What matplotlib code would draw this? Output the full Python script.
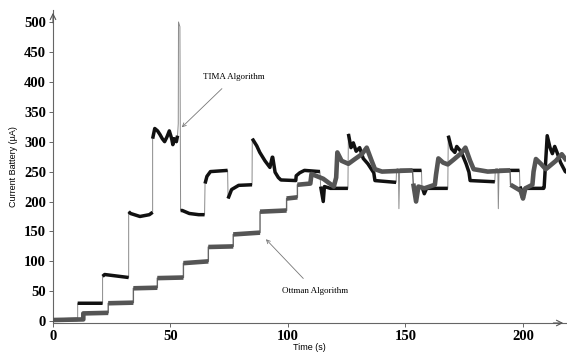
import matplotlib
matplotlib.use("Agg")
import matplotlib.pyplot as plt
import numpy as np

# TIMA algorithm trace (black), breakpoints
tima_t = [0, 10.5, 10.5, 21.1, 21.1, 22.0, 32.2, 32.2, 33.0, 37.0, 41.0, 42.4,
          42.4, 43.3, 44.5, 45.5, 46.5, 47.5, 48.5, 49.5, 50.5, 51.0, 51.5, 52.5, 53.0,
          53.3, 53.4, 54.0, 54.3, 55.0, 58.0, 62.0, 64.5,
          64.7, 65.5, 67.0, 74.0, 74.3, 74.5, 76.0, 79.0, 84.7,
          84.8, 86.7, 88.0, 90.2, 92.3, 93.3, 93.5, 94.5, 95.9, 97.0, 103.3,
          103.5, 105.0, 107.0, 113.6, 113.9, 115.0, 115.5, 118.0, 125.5,
          125.7, 126.8, 127.8, 129.0, 130.5, 132.0, 134.0, 136.5,
          137.0, 146.0, 146.2, 147.0, 147.2, 147.5, 156.8, 157.0, 158.0, 159.0, 168.0,
          168.2, 169.6, 171.0, 171.8, 173.7, 175.8, 177.0,
          177.5, 188.0, 188.2, 189.3, 189.5, 189.8, 198.5, 198.7, 200.0, 201.0, 208.8,
          209.0, 210.3, 211.5, 212.5, 213.5, 214.5, 216.0, 218.0, 219.0]
tima_v = [2, 3, 30, 30, 75, 78, 73, 183, 180, 175, 178, 182,
          305, 322, 318, 312, 305, 300, 308, 318, 305, 295, 305, 300, 310,
          330, 500, 492, 185, 185, 180, 178, 178,
          230, 242, 250, 252, 252, 205, 220, 227, 228,
          305, 293, 282, 268, 257, 274, 274, 249, 240, 236, 235,
          243, 248, 252, 250, 225, 200, 225, 222, 222,
          313, 290, 298, 284, 290, 272, 263, 248,
          235, 232, 252, 252, 188, 252, 252, 225, 213, 222, 222,
          310, 288, 282, 292, 283, 263, 249,
          235, 233, 252, 252, 188, 252, 252, 225, 213, 222, 222,
          224, 310, 290, 280, 292, 282, 265, 250, 248]

# Ottman algorithm trace (dark grey)
ottman_t = [0, 12.9, 12.9, 23.5, 23.5, 34.2, 34.2, 44.4, 44.4, 55.5, 55.5, 66.1,
            66.1, 76.7, 76.7, 88.1, 88.1, 99.4, 99.4, 104.0, 104.0, 109.5, 110.0, 115.0,
            119.5, 120.5, 121.0, 122.8, 125.7, 128.5, 131.4, 133.5, 135.6, 137.0,
            140.0, 153.0, 153.3, 154.5, 155.5, 158.0, 162.5,
            163.0, 164.0, 166.0, 168.0, 170.5, 173.5, 175.5, 177.5, 179.0,
            185.0, 194.5, 194.7, 199.0, 200.0, 201.0, 204.0,
            204.5, 205.5, 207.6, 209.7, 214.0, 216.5, 218.6]
ottman_v = [2, 3, 13, 14, 30, 31, 55, 56, 72, 73, 97, 100,
            124, 125, 145, 148, 183, 185, 205, 207, 228, 230, 246, 238,
            225, 240, 282, 268, 263, 271, 279, 290, 268, 254,
            250, 252, 230, 200, 225, 222, 228,
            245, 272, 265, 262, 270, 280, 290, 268, 254,
            250, 252, 228, 218, 205, 222, 228,
            250, 271, 263, 254, 268, 279, 268]

x_ticks = [0, 50, 100, 150, 200]
y_ticks = [0, 50, 100, 150, 200, 250, 300, 350, 400, 450, 500]


def plateaus(t, v, spike_above=400):
    """Copy of the trace with the near-vertical jumps (and the tall spike) blanked out."""
    t = np.asarray(t, dtype=float)
    v = np.asarray(v, dtype=float)
    tt, vv = [t[0]], [v[0]]
    for i in range(1, len(t)):
        jump = t[i] - t[i - 1] < 0.35 and abs(v[i] - v[i - 1]) > 12
        spike = max(v[i], v[i - 1]) > spike_above
        if jump or spike:
            tt.append(np.nan)
            vv.append(np.nan)
        tt.append(t[i])
        vv.append(v[i])
    return np.array(tt), np.array(vv)


fig = plt.figure(figsize=(5.67, 3.54), dpi=100)
ax = fig.add_axes([53 / 567, 31 / 354, 513 / 567, 313 / 354])

# thin lines carry the jumps, thick ones the noisy plateaus
ax.plot(tima_t, tima_v, color="#8a8a8a", lw=0.7, zorder=2)
pt, pv = plateaus(tima_t, tima_v)
ax.plot(pt, pv, color="#111111", lw=2.5, zorder=3, solid_capstyle="butt")

ax.plot(ottman_t, ottman_v, color="#666666", lw=1.0, zorder=4)
pt, pv = plateaus(ottman_t, ottman_v)
ax.plot(pt, pv, color="#555555", lw=3.3, zorder=5, solid_capstyle="butt")

ax.set_xlim(0, 218.3)
ax.set_ylim(-3, 520)
ax.set_xticks(x_ticks)
ax.set_yticks(y_ticks)

serif = "Liberation Serif"
for lab in ax.get_xticklabels() + ax.get_yticklabels():
    lab.set_fontfamily(serif)
    lab.set_fontweight("bold")
    lab.set_fontsize(10.5)
ax.tick_params(direction="out", length=3, width=0.7, color="#666666", pad=2)

for side in ("top", "right"):
    ax.spines[side].set_visible(False)
for side in ("left", "bottom"):
    ax.spines[side].set_color("#666666")
    ax.spines[side].set_linewidth(0.8)

# axis arrows
ax.annotate("", xy=(0, 1.0), xytext=(0, 0.95), xycoords="axes fraction",
            arrowprops=dict(arrowstyle="->", color="#555555", lw=0.8))
ax.annotate("", xy=(1.0, 0), xytext=(0.97, 0), xycoords="axes fraction",
            arrowprops=dict(arrowstyle="->", color="#555555", lw=0.8))

ax.set_xlabel("Time (s)", fontfamily="Liberation Sans", fontsize=6.5, labelpad=0)
ax.set_ylabel("Current Battery (\u00b5A)", fontfamily="Liberation Sans",
              fontsize=6.5, labelpad=4)

ax.annotate("TIMA Algorithm", xy=(54.8, 324), xytext=(77, 408),
            fontfamily=serif, fontsize=6.5, ha="center", va="center",
            arrowprops=dict(arrowstyle="->", color="#777777", lw=0.6,
                            shrinkA=5, shrinkB=0))
ax.annotate("Ottman Algorithm", xy=(90.6, 137), xytext=(111.7, 50),
            fontfamily=serif, fontsize=6.5, ha="center", va="center",
            arrowprops=dict(arrowstyle="->", color="#777777", lw=0.6,
                            shrinkA=6, shrinkB=0))

fig.savefig("out.png", dpi=100)
